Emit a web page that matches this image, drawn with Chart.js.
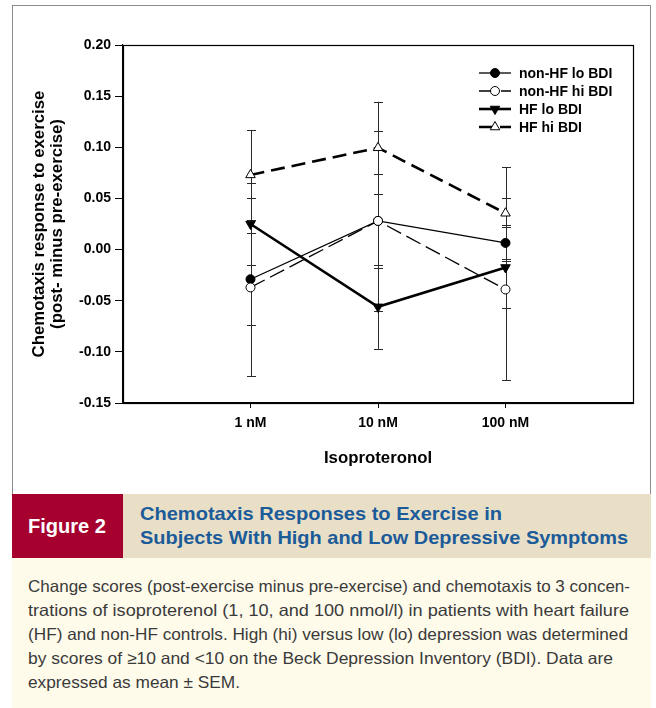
<!DOCTYPE html>
<html>
<head>
<meta charset="utf-8">
<title>Figure 2</title>
<script src="https://cdn.jsdelivr.net/npm/chart.js@4.4.0/dist/chart.umd.min.js"></script>
<style>
  html, body { margin: 0; padding: 0; background: #fff; }
  body { width: 656px; height: 708px; position: relative; overflow: hidden; font-family: 'Liberation Sans', Arial, sans-serif; }
  #frame { position: absolute; left: 12px; top: 5px; width: 637px; height: 760px; border: 1px solid #8c8c8c; border-bottom: none; }
  #chartBox { position: absolute; left: 0; top: 0; width: 656px; height: 490px; }
  #band { position: absolute; left: 12px; top: 494px; width: 639px; height: 64px; background: #e9dfc7; }
  #figTag { position: absolute; left: 0; top: 0; width: 111px; height: 64px; background: #a6002f; }
  #notes { position: absolute; left: 12px; top: 558px; width: 639px; height: 150px; background: #fefbeb; }
  .ln { position: absolute; white-space: nowrap; }
  .fit { display: inline-block; transform-origin: 0 50%; }
  .tag { color: #fff; font-weight: bold; font-size: 21px; line-height: 21px; }
  .ttl { color: #1b5b99; font-weight: bold; font-size: 19px; line-height: 19px; }
  .txt { color: #3a3a3a; font-size: 16.5px; line-height: 16.5px; }
</style>
</head>
<body>
<div id="frame"></div>
<div id="chartBox"><canvas id="chemoChart" width="656" height="490"></canvas></div>

<div id="band">
  <div id="figTag"></div>
  <div class="ln tag" style="left:16px; top:21px;"><span class="fit" data-w="78">Figure 2</span></div>
  <div class="ln ttl" style="left:128px; top:10px;"><span class="fit" data-w="362">Chemotaxis Responses to Exercise in</span></div>
  <div class="ln ttl" style="left:128px; top:34px;"><span class="fit" data-w="488">Subjects With High and Low Depressive Symptoms</span></div>
</div>

<div id="notes">
  <div class="ln txt" style="left:16px; top:20px;"><span class="fit" data-w="602">Change scores (post-exercise minus pre-exercise) and chemotaxis to 3 concen-</span></div>
  <div class="ln txt" style="left:16px; top:44px;"><span class="fit" data-w="601">trations of isoproterenol (1, 10, and 100 nmol/l) in patients with heart failure</span></div>
  <div class="ln txt" style="left:16px; top:68px;"><span class="fit" data-w="600">(HF) and non-HF controls. High (hi) versus low (lo) depression was determined</span></div>
  <div class="ln txt" style="left:16px; top:92px;"><span class="fit" data-w="585">by scores of &ge;10 and &lt;10 on the Beck Depression Inventory (BDI). Data are</span></div>
  <div class="ln txt" style="left:16px; top:116px;"><span class="fit" data-w="212">expressed as mean &plusmn; SEM.</span></div>
</div>

<script>
// --- data ---
const concentrations = ['1 nM', '10 nM', '100 nM'];
const xPositions = [1, 2, 3];
const yTicks = [-0.15, -0.10, -0.05, 0.00, 0.05, 0.10, 0.15, 0.20];
const seriesNames = ['non-HF lo BDI', 'non-HF hi BDI', 'HF lo BDI', 'HF hi BDI'];

const nonHfLo = [-0.029, 0.028, 0.0065];
const nonHfHi = [-0.037, 0.028, -0.039];
const hfLo = [0.025, -0.056, -0.0175];
const hfHi = [0.073, 0.0995, 0.0355];

// SEM
const nonHfLoSem = [0.045, 0.046, 0.0175];
const nonHfHiSem = [0.087, 0.088, 0.089];
const hfLoSem = [0.040, 0.041, 0.040];
const hfHiSem = [0.044, 0.045, 0.045];

const toPoints = (vals) => vals.map((v, i) => ({ x: xPositions[i], y: v }));

const inkColor = '#000';
const tickFont = { family: 'Liberation Sans, Arial, sans-serif', size: 14, weight: 'bold' };
const titleFont = { family: 'Liberation Sans, Arial, sans-serif', size: 16.8, weight: 'bold', lineHeight: 1.03 };

// --- little triangle / circle marker for the legend ---
function drawMarker(ctx, style, rotation, r, fill, x, y) {
    ctx.save();
    ctx.beginPath();
    if (style === 'circle') {
        ctx.arc(x, y, r, 0, Math.PI * 2);
    } else {
        let rad = rotation * Math.PI / 180;
        for (let k = 0; k < 3; k++) {
            const px = x + Math.sin(rad) * r;
            const py = y - Math.cos(rad) * r;
            if (k === 0) ctx.moveTo(px, py); else ctx.lineTo(px, py);
            rad += Math.PI * 2 / 3;
        }
        ctx.closePath();
    }
    ctx.setLineDash([]);
    ctx.fillStyle = fill;
    ctx.fill();
    ctx.lineWidth = 1;
    ctx.strokeStyle = inkColor;
    ctx.stroke();
    ctx.restore();
}

// error bars (mean +/- SEM), drawn under the lines
const errorBars = {
    id: 'errorBars',
    beforeDatasetsDraw(chart) {
        const { ctx, scales: { x, y } } = chart;
        ctx.save();
        ctx.strokeStyle = '#2a2a2a';
        ctx.lineWidth = 1;
        chart.data.datasets.forEach((ds) => {
            ds.data.forEach((p, i) => {
                const e = ds.sem[i];
                const px = Math.round(x.getPixelForValue(p.x)) + 0.5;
                const yTop = y.getPixelForValue(p.y + e);
                const yBot = y.getPixelForValue(p.y - e);
                ctx.beginPath();
                ctx.moveTo(px, yTop); ctx.lineTo(px, yBot);
                ctx.moveTo(px - 4.5, Math.round(yTop) + 0.5); ctx.lineTo(px + 4.5, Math.round(yTop) + 0.5);
                ctx.moveTo(px - 4.5, Math.round(yBot) + 0.5); ctx.lineTo(px + 4.5, Math.round(yBot) + 0.5);
                ctx.stroke();
            });
        });
        ctx.restore();
    }
};

// frame around plot + legend in the upper right
const boxAndLegend = {
    id: 'boxAndLegend',
    afterDraw(chart) {
        const { ctx, chartArea: a } = chart;
        ctx.save();
        ctx.strokeStyle = inkColor;
        ctx.lineWidth = 1.2;
        ctx.strokeRect(Math.round(a.left) + 0.5, Math.round(a.top) + 0.5,
            Math.round(a.right - a.left), Math.round(a.bottom - a.top));

        const x0 = a.right - 154, x1 = a.right - 122, xm = a.right - 138, xt = a.right - 114;
        ctx.font = 'bold 14px "Liberation Sans", Arial, sans-serif';
        ctx.textBaseline = 'middle';
        ctx.fillStyle = inkColor;
        chart.data.datasets.forEach((ds, i) => {
            const yy = a.top + 28 + i * 18;
            ctx.beginPath();
            ctx.setLineDash(ds.borderDash || []);
            ctx.lineWidth = ds.borderWidth;
            ctx.strokeStyle = inkColor;
            ctx.moveTo(x0, yy); ctx.lineTo(x1, yy);
            ctx.stroke();
            drawMarker(ctx, ds.pointStyle, ds.pointRotation || 0, ds.pointRadius, ds.pointBackgroundColor, xm, yy);
            ctx.setLineDash([]);
            ctx.fillStyle = inkColor;
            ctx.fillText(ds.label, xt, yy + 1);
        });
        ctx.restore();
    }
};

const ctx = document.getElementById('chemoChart');

new Chart(ctx, {
    type: 'line',
    data: {
        datasets: [
            {
                label: seriesNames[0], data: toPoints(nonHfLo), sem: nonHfLoSem, order: 4,
                borderColor: inkColor, borderWidth: 1.3,
                pointStyle: 'circle', pointRadius: 4.5, pointBackgroundColor: '#000', pointBorderColor: inkColor, pointBorderWidth: 1
            },
            {
                label: seriesNames[1], data: toPoints(nonHfHi), sem: nonHfHiSem, order: 3,
                borderColor: inkColor, borderWidth: 1.3, borderDash: [16, 6],
                pointStyle: 'circle', pointRadius: 4.5, pointBackgroundColor: '#fff', pointBorderColor: inkColor, pointBorderWidth: 1
            },
            {
                label: seriesNames[2], data: toPoints(hfLo), sem: hfLoSem, order: 2,
                borderColor: inkColor, borderWidth: 2.6,
                pointStyle: 'triangle', pointRotation: 180, pointRadius: 5.5, pointBackgroundColor: '#000', pointBorderColor: inkColor, pointBorderWidth: 1
            },
            {
                label: seriesNames[3], data: toPoints(hfHi), sem: hfHiSem, order: 1,
                borderColor: inkColor, borderWidth: 2.6, borderDash: [14, 7],
                pointStyle: 'triangle', pointRadius: 5.5, pointBackgroundColor: '#fff', pointBorderColor: inkColor, pointBorderWidth: 1
            }
        ]
    },
    options: {
        responsive: false,
        animation: false,
        layout: { padding: { top: 45, right: 23, bottom: 0, left: 0 } },
        plugins: { legend: { display: false }, tooltip: { enabled: false } },
        elements: { line: { tension: 0 } },
        scales: {
            x: {
                type: 'linear', min: 0, max: 4,
                afterBuildTicks: (s) => { s.ticks = xPositions.map(v => ({ value: v })); },
                afterFit: (s) => { s.height = 87; },
                ticks: {
                    color: inkColor, font: tickFont, padding: 7, maxRotation: 0,
                    callback: (v) => concentrations[xPositions.indexOf(v)]
                },
                grid: { drawOnChartArea: false, drawTicks: true, tickLength: 5, color: inkColor },
                border: { color: inkColor, width: 1.2 },
                title: { display: true, text: 'Isoproteronol', color: inkColor, font: titleFont, padding: { top: 0, bottom: 23 } }
            },
            y: {
                min: -0.15, max: 0.20,
                afterBuildTicks: (s) => { s.ticks = yTicks.map(v => ({ value: v })); },
                afterFit: (s) => { s.width = 123; },
                ticks: {
                    color: inkColor, font: tickFont, padding: 4,
                    callback: (v) => v.toFixed(2)
                },
                grid: { drawOnChartArea: false, drawTicks: true, tickLength: 8, color: inkColor },
                border: { color: inkColor, width: 1.2 },
                title: {
                    display: true,
                    text: ['Chemotaxis response to exercise', '(post- minus pre-exercise)'],
                    color: inkColor, font: titleFont, padding: { top: 31, bottom: 0 }
                }
            }
        }
    },
    plugins: [errorBars, boxAndLegend]
});

// squeeze caption lines to the widths of the printed figure
document.querySelectorAll('.fit').forEach((el) => {
    const target = parseFloat(el.dataset.w);
    const w = el.getBoundingClientRect().width;
    if (w > 0) el.style.transform = `scaleX(${target / w})`;
});
</script>
</body>
</html>
